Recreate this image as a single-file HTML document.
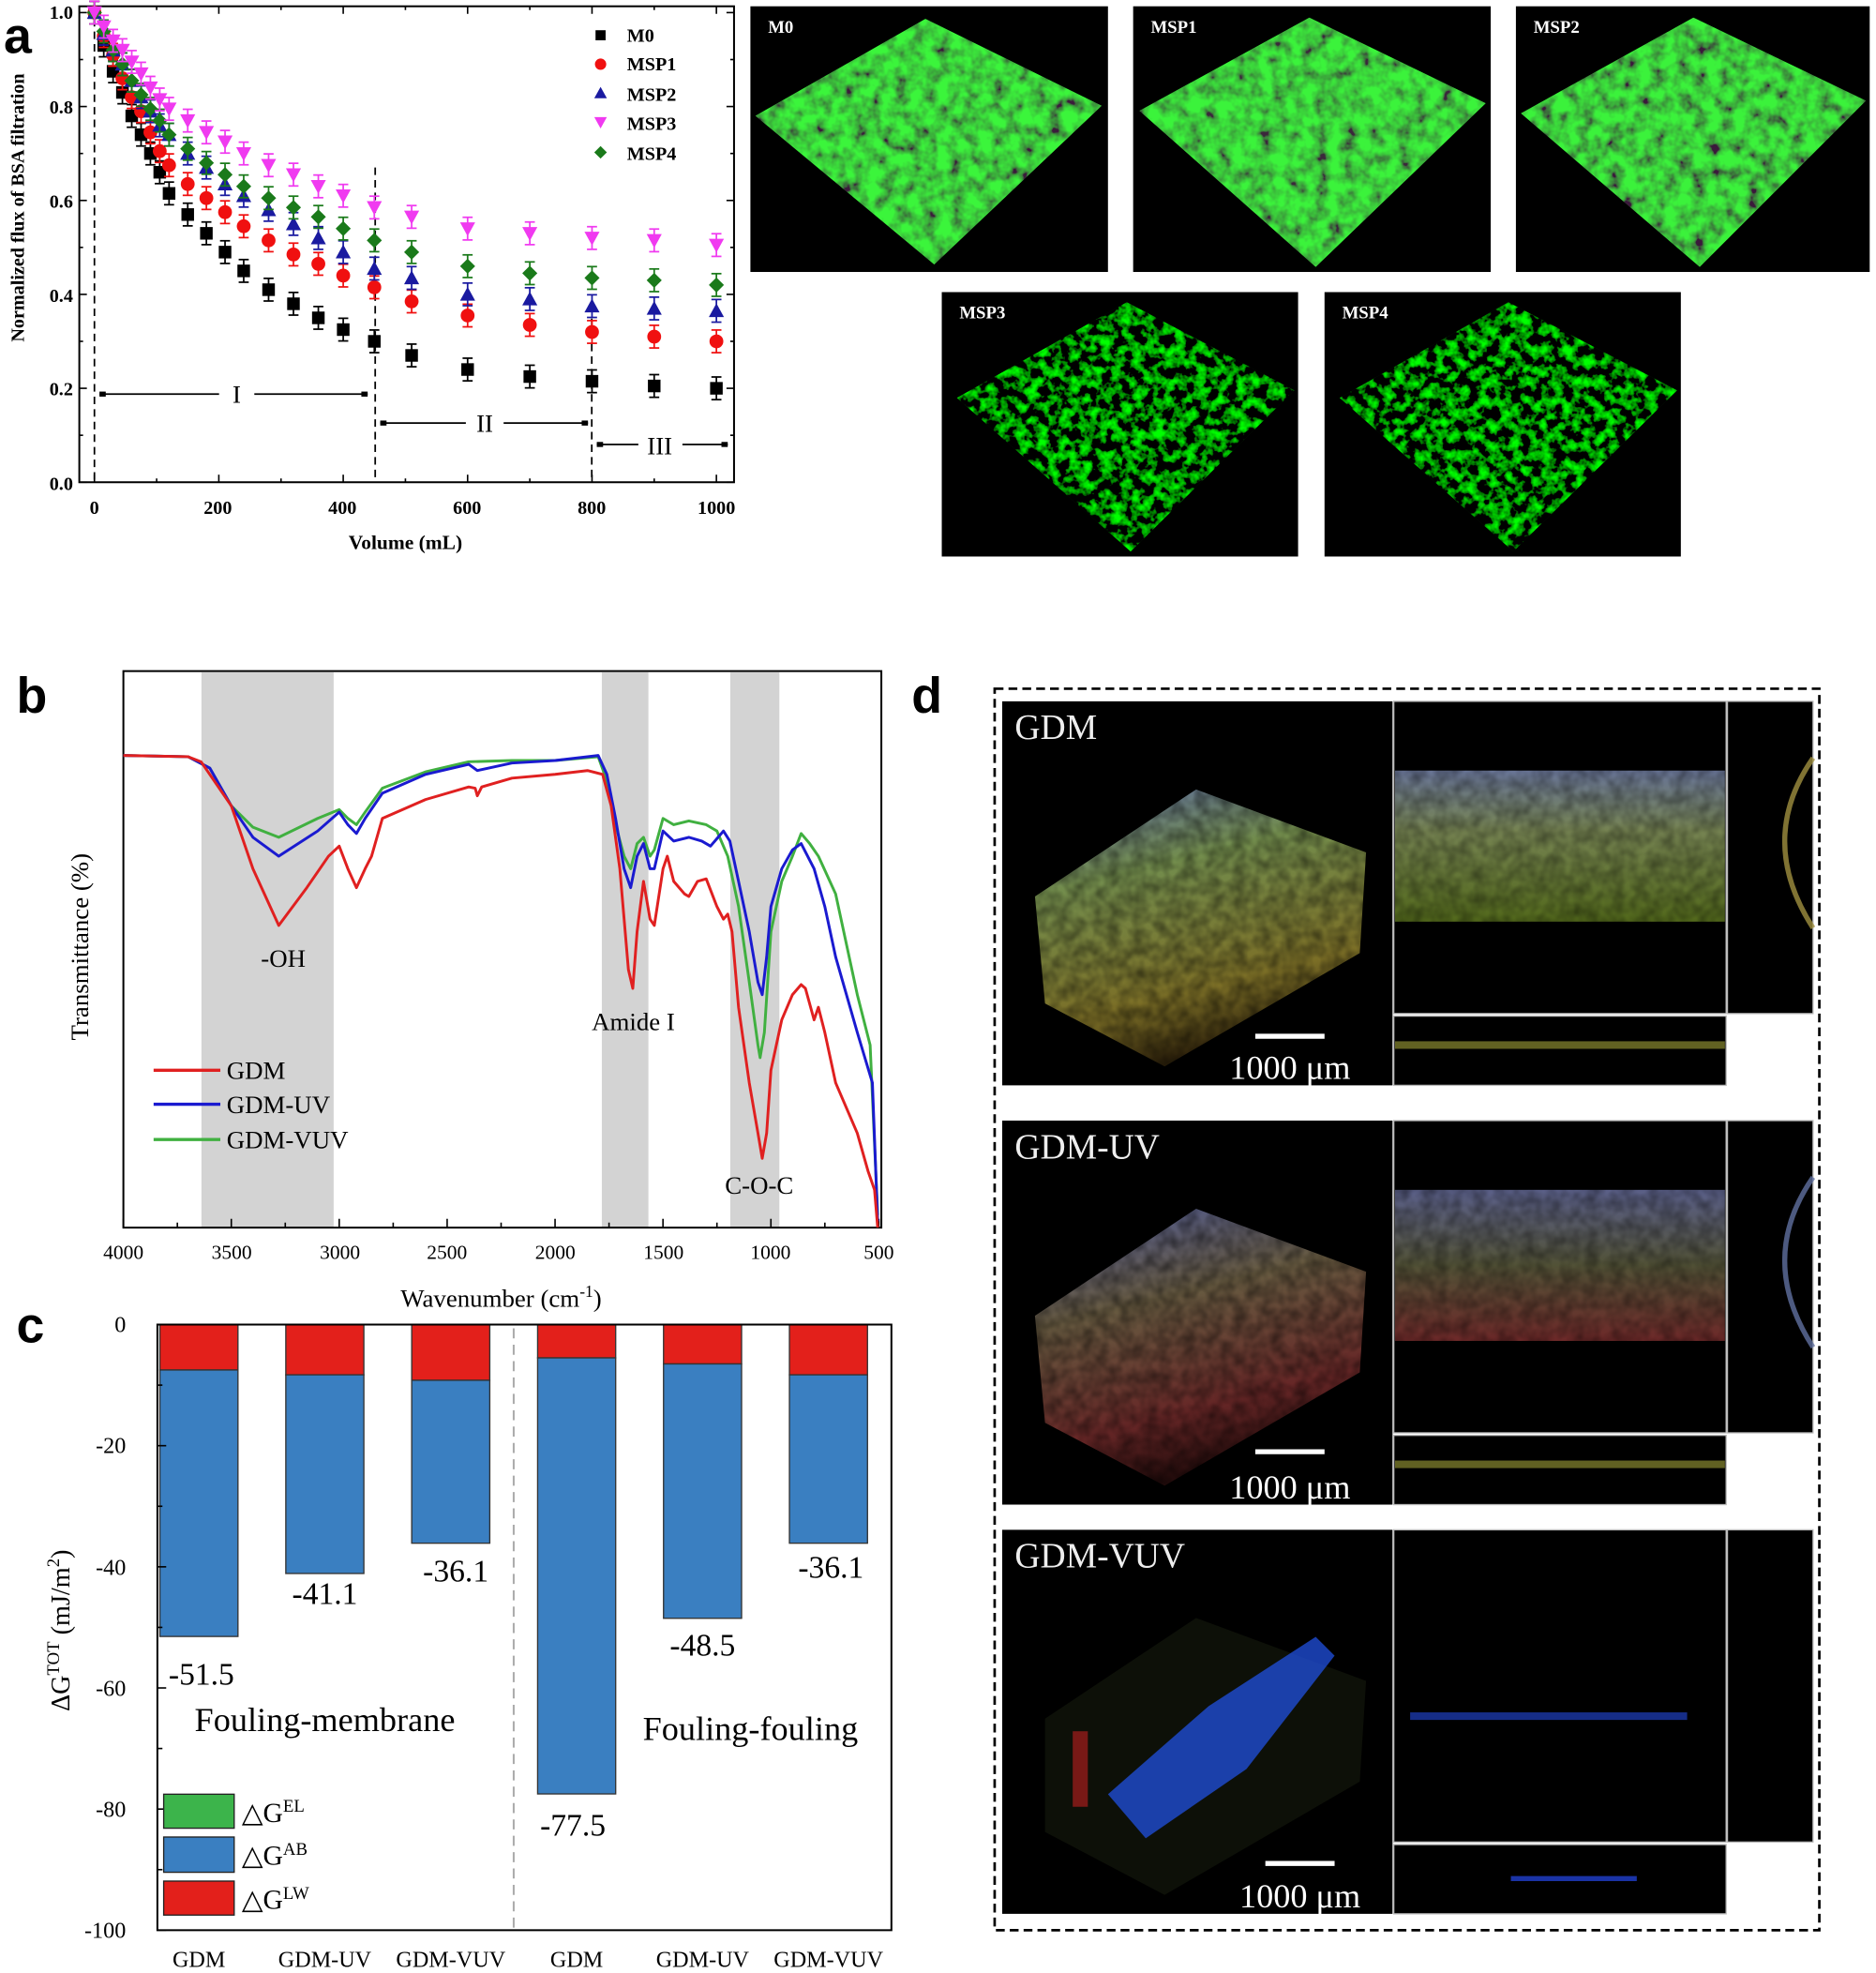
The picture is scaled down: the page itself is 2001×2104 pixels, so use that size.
<!DOCTYPE html>
<html><head><meta charset="utf-8"><style>html,body{margin:0;padding:0;background:#fff}svg{display:block}</style></head>
<body>
<svg id="s" xmlns="http://www.w3.org/2000/svg" width="2001" height="2104" viewBox="0 0 1490 1567" preserveAspectRatio="none" font-family="'Liberation Serif',serif">
<defs>
<filter id="gn" x="0" y="0" width="100%" height="100%"><feTurbulence type="fractalNoise" baseFrequency="0.09" numOctaves="3" seed="3"/><feColorMatrix type="matrix" values="0 0 0 0 0.05  2.2 0 0 0 -0.45  0 0 0 0 0.05  0 0 0 0 1"/></filter>
<filter id="gn2" x="0" y="0" width="100%" height="100%"><feTurbulence type="fractalNoise" baseFrequency="0.12" numOctaves="3" seed="7"/><feColorMatrix type="matrix" values="0 0 0 0 0  3 0 0 0 -1.3  0 0 0 0 0  0 0 0 0 1"/></filter>
<filter id="cn" x="0" y="0" width="100%" height="100%"><feTurbulence type="fractalNoise" baseFrequency="0.1" numOctaves="2" seed="5"/><feColorMatrix type="matrix" values="0 0 0 0 0 0 0 0 0 0 0 0 0 0 0 0 0 0 1.2 -0.3"/></filter>
<linearGradient id="d1" x1="0" y1="0" x2="0.3" y2="1"><stop offset="0" stop-color="#7080d0"/><stop offset="0.35" stop-color="#8fb060"/><stop offset="0.8" stop-color="#9a8a30"/><stop offset="1" stop-color="#403010"/></linearGradient>
<linearGradient id="d2" x1="0" y1="0" x2="0.3" y2="1"><stop offset="0" stop-color="#6070c0"/><stop offset="0.4" stop-color="#807050"/><stop offset="0.8" stop-color="#803030"/><stop offset="1" stop-color="#301010"/></linearGradient>
<linearGradient id="o1" x1="0" y1="0" x2="0" y2="1"><stop offset="0" stop-color="#7a88b0"/><stop offset="0.4" stop-color="#8a9a60"/><stop offset="1" stop-color="#607a20"/></linearGradient>
<linearGradient id="o2" x1="0" y1="0" x2="0" y2="1"><stop offset="0" stop-color="#6a70a0"/><stop offset="0.5" stop-color="#606040"/><stop offset="1" stop-color="#803030"/></linearGradient>
<clipPath id="c0"><polygon points="600,92 735,15 875,84 742,210"/></clipPath>
<clipPath id="c1"><polygon points="905,88 1040,14 1180,82 1045,212"/></clipPath>
<clipPath id="c2"><polygon points="1208,90 1345,14 1482,80 1350,212"/></clipPath>
<clipPath id="c3"><polygon points="760,316 895,240 1028,310 898,438"/></clipPath>
<clipPath id="c4"><polygon points="1064,316 1198,240 1332,310 1202,438"/></clipPath>
</defs>

<!-- ===== Panel a ===== -->
<text x="3" y="42" font-family="'Liberation Sans',sans-serif" font-weight="bold" font-size="40">a</text>
<rect x="63" y="5" width="520" height="378" fill="none" stroke="#000" stroke-width="1.5"/>
<g id="aticks" stroke="#000" stroke-width="1.2"></g>
<g stroke="#000" stroke-width="1.3" stroke-dasharray="6,4" fill="none">
<line x1="75" y1="5" x2="75" y2="383"/><line x1="298" y1="133" x2="298" y2="383"/><line x1="470" y1="253" x2="470" y2="383"/>
</g>
<g font-size="15" font-weight="bold" text-anchor="middle">
<text x="75" y="408">0</text><text x="173" y="408">200</text><text x="272" y="408">400</text><text x="371" y="408">600</text><text x="470" y="408">800</text><text x="569" y="408">1000</text>
</g>
<g font-size="15" font-weight="bold" text-anchor="end">
<text x="58" y="15">1.0</text><text x="58" y="90">0.8</text><text x="58" y="165">0.6</text><text x="58" y="240">0.4</text><text x="58" y="314">0.2</text><text x="58" y="389">0.0</text>
</g>
<text x="322" y="436" font-size="16" font-weight="bold" text-anchor="middle">Volume (mL)</text>
<text transform="translate(19,165) rotate(-90)" font-size="15" font-weight="bold" text-anchor="middle">Normalized flux of BSA filtration</text>
<g stroke="#000" stroke-width="1.3">
<line x1="79" y1="313" x2="174" y2="313"/><line x1="202" y1="313" x2="292" y2="313"/>
<line x1="302" y1="336" x2="370" y2="336"/><line x1="400" y1="336" x2="467" y2="336"/>
<line x1="474" y1="353" x2="507" y2="353"/><line x1="542" y1="353" x2="578" y2="353"/>
</g>
<g fill="#000"><rect x="79" y="311" width="5" height="4"/><rect x="287" y="311" width="5" height="4"/><rect x="302" y="334" width="5" height="4"/><rect x="462" y="334" width="5" height="4"/><rect x="474" y="351" width="5" height="4"/><rect x="573" y="351" width="5" height="4"/></g>
<g font-size="20" text-anchor="middle"><text x="188" y="320">I</text><text x="385" y="343">II</text><text x="524" y="361">III</text></g>
<g id="adata"></g>
<g font-size="15" font-weight="bold">
<rect x="473" y="24" width="8" height="8"/><text x="498" y="33">M0</text>
<circle cx="477" cy="51" r="4.5" fill="#f01010"/><text x="498" y="56">MSP1</text>
<polygon points="477,69 482,78 472,78" fill="#1a1aa0"/><text x="498" y="80">MSP2</text>
<polygon points="472,93 482,93 477,102" fill="#f03af0"/><text x="498" y="103">MSP3</text>
<polygon points="477,116 482,121 477,126 472,121" fill="#1a7a1a"/><text x="498" y="127">MSP4</text>
</g>

<!-- CLSM images -->
<g>
<rect x="596" y="5" width="284" height="211" fill="#000"/>
<rect x="900" y="5" width="284" height="211" fill="#000"/>
<rect x="1204" y="5" width="281" height="211" fill="#000"/>
<rect x="748" y="232" width="283" height="210" fill="#000"/>
<rect x="1052" y="232" width="283" height="210" fill="#000"/>
<g clip-path="url(#c0)"><rect x="596" y="5" width="284" height="211" fill="#2db82d"/><rect x="596" y="5" width="284" height="211" filter="url(#gn)" opacity="0.85"/></g>
<g clip-path="url(#c1)"><rect x="900" y="5" width="284" height="211" fill="#30c030"/><rect x="900" y="5" width="284" height="211" filter="url(#gn)" opacity="0.8"/></g>
<g clip-path="url(#c2)"><rect x="1204" y="5" width="281" height="211" fill="#28a828"/><rect x="1204" y="5" width="281" height="211" filter="url(#gn)" opacity="0.85"/></g>
<g clip-path="url(#c3)"><rect x="748" y="232" width="283" height="210" fill="#0a300a"/><rect x="748" y="232" width="283" height="210" filter="url(#gn2)"/></g>
<g clip-path="url(#c4)"><rect x="1052" y="232" width="283" height="210" fill="#0a350a"/><rect x="1052" y="232" width="283" height="210" filter="url(#gn2)"/></g>
<g fill="#fff" font-size="14" font-weight="bold">
<text x="610" y="26">M0</text><text x="914" y="26">MSP1</text><text x="1218" y="26">MSP2</text><text x="762" y="253">MSP3</text><text x="1066" y="253">MSP4</text>
</g>
</g>

<!-- ===== Panel b ===== -->
<text x="13" y="566" font-family="'Liberation Sans',sans-serif" font-weight="bold" font-size="40">b</text>
<g fill="#d3d3d3"><rect x="160" y="534" width="105" height="441"/><rect x="478" y="534" width="37" height="441"/><rect x="580" y="534" width="39" height="441"/></g>
<rect x="98" y="533" width="602" height="442" fill="none" stroke="#000" stroke-width="1.5"/>
<g id="bticks" stroke="#000" stroke-width="1.2"></g>
<g id="bcurves" fill="none" stroke-width="2.2" stroke-linejoin="round"></g>
<g font-size="16" text-anchor="middle">
<text x="98" y="1000">4000</text><text x="184" y="1000">3500</text><text x="270" y="1000">3000</text><text x="355" y="1000">2500</text><text x="441" y="1000">2000</text><text x="527" y="1000">1500</text><text x="612" y="1000">1000</text><text x="698" y="1000">500</text>
</g>
<text x="398" y="1038" font-size="20" text-anchor="middle">Wavenumber (cm<tspan dy="-8" font-size="13">-1</tspan><tspan dy="8">)</tspan></text>
<text transform="translate(70,752) rotate(-90)" font-size="20" text-anchor="middle">Transmittance (%)</text>
<g font-size="20" text-anchor="middle"><text x="225" y="768">-OH</text><text x="503" y="818">Amide I</text><text x="603" y="948">C-O-C</text></g>
<g stroke-width="2.5"><line x1="122" y1="850" x2="175" y2="850" stroke="#e02020"/><line x1="122" y1="877" x2="175" y2="877" stroke="#1a1ad0"/><line x1="122" y1="905" x2="175" y2="905" stroke="#40b040"/></g>
<g font-size="20"><text x="180" y="857">GDM</text><text x="180" y="884">GDM-UV</text><text x="180" y="912">GDM-VUV</text></g>

<!-- ===== Panel c ===== -->
<text x="13" y="1066" font-family="'Liberation Sans',sans-serif" font-weight="bold" font-size="40">c</text>
<line x1="408" y1="1055" x2="408" y2="1533" stroke="#aaa" stroke-width="1.5" stroke-dasharray="8,5"/>
<g id="cbars"></g>
<rect x="125" y="1052" width="583" height="481" fill="none" stroke="#000" stroke-width="1.5"/>
<g id="cticks" stroke="#000" stroke-width="1.2"></g>
<g font-size="18" text-anchor="end">
<text x="100" y="1058">0</text><text x="100" y="1154">-20</text><text x="100" y="1251">-40</text><text x="100" y="1347">-60</text><text x="100" y="1443">-80</text><text x="100" y="1539">-100</text>
</g>
<g font-size="18" text-anchor="middle">
<text x="158" y="1562">GDM</text><text x="258" y="1562">GDM-UV</text><text x="358" y="1562">GDM-VUV</text><text x="458" y="1562">GDM</text><text x="558" y="1562">GDM-UV</text><text x="658" y="1562">GDM-VUV</text>
</g>
<g font-size="25" text-anchor="middle">
<text x="160" y="1338">-51.5</text><text x="258" y="1274">-41.1</text><text x="362" y="1256">-36.1</text><text x="455" y="1458">-77.5</text><text x="558" y="1315">-48.5</text><text x="660" y="1253">-36.1</text>
<text x="258" y="1375" font-size="27">Fouling-membrane</text><text x="596" y="1382" font-size="27">Fouling-fouling</text>
</g>
<text transform="translate(55,1295) rotate(-90)" font-size="21" text-anchor="middle">ΔG<tspan dy="-8" font-size="14">TOT</tspan><tspan dy="8"> (mJ/m</tspan><tspan dy="-8" font-size="14">2</tspan><tspan dy="8">)</tspan></text>
<g stroke="#222" stroke-width="1">
<rect x="130" y="1425" width="56" height="27" fill="#3cb44b"/><rect x="130" y="1459" width="56" height="28" fill="#3a7fc1"/><rect x="130" y="1494" width="56" height="27" fill="#e3201b"/>
</g>
<g font-size="22"><text x="192" y="1447">△G<tspan dy="-8" font-size="14">EL</tspan></text><text x="192" y="1481">△G<tspan dy="-8" font-size="14">AB</tspan></text><text x="192" y="1516">△G<tspan dy="-8" font-size="14">LW</tspan></text></g>

<!-- ===== Panel d ===== -->
<text x="724" y="566" font-family="'Liberation Sans',sans-serif" font-weight="bold" font-size="40">d</text>
<rect x="790" y="547" width="655" height="986" fill="none" stroke="#000" stroke-width="2" stroke-dasharray="7,4"/>
<g id="drows"></g>
</svg>
<script>
const NS="http://www.w3.org/2000/svg";
function el(t,a,p){const e=document.createElementNS(NS,t);for(const k in a)e.setAttribute(k,a[k]);(p||document.getElementById('s')).appendChild(e);return e;}
// ticks
const at=document.getElementById('aticks');
for(let v=0;v<=1000;v+=100){const x=75+v*0.494,L=v%200==0?6:3;el('line',{x1:x,y1:383,x2:x,y2:383-L},at);el('line',{x1:x,y1:5,x2:x,y2:5+L},at);}
for(let f=0;f<=1.0001;f+=0.1){const y=383-f*373,L=Math.round(f*10)%2==0?6:3;el('line',{x1:63,y1:y,x2:63+L,y2:y},at);el('line',{x1:583,y1:y,x2:583-L,y2:y},at);}
const bt=document.getElementById('bticks');
for(let w=500;w<=4000;w+=250){const x=98+(4000-w)*600/3500,L=w%500==0?7:4;el('line',{x1:x,y1:975,x2:x,y2:975-L},bt);}
const ct=document.getElementById('cticks');
for(let v=0;v<=100;v+=10){const y=1052+v*4.81,L=v%20==0?7:4;el('line',{x1:125,y1:y,x2:125+L,y2:y},ct);}
// Panel a
const V=[0,15,30,45,60,75,90,105,120,150,180,210,240,280,320,360,400,450,510,600,700,800,900,1000];
const D={
M0:[1,.93,.875,.83,.78,.74,.70,.66,.615,.57,.53,.49,.45,.41,.38,.35,.325,.30,.27,.24,.225,.215,.205,.20],
M1:[1,.95,.91,.86,.82,.79,.745,.705,.675,.635,.605,.575,.545,.515,.485,.465,.44,.415,.385,.355,.335,.32,.31,.30],
M2:[1,.955,.92,.89,.855,.82,.79,.76,.74,.70,.67,.635,.61,.58,.55,.52,.49,.455,.435,.40,.39,.375,.37,.365],
M3:[1,.97,.94,.92,.895,.87,.84,.815,.795,.77,.745,.725,.70,.675,.655,.63,.61,.585,.565,.54,.53,.52,.515,.505],
M4:[1,.96,.92,.89,.855,.825,.795,.77,.74,.71,.68,.655,.63,.605,.585,.565,.54,.515,.49,.46,.445,.435,.43,.42]};
const ag=document.getElementById('adata');
const xs=v=>75+v*0.494, ys=f=>383-f*373;
const cols={M0:'#000',M1:'#f01010',M2:'#1a1aa0',M3:'#f03af0',M4:'#1a7a1a'};
['M0','M1','M2','M4','M3'].forEach(k=>{D[k].forEach((f,i)=>{const x=xs(V[i]),y=ys(f),c=cols[k],e=9;
 el('line',{x1:x,y1:y-e,x2:x,y2:y+e,stroke:c,'stroke-width':1.3},ag);
 el('line',{x1:x-4,y1:y-e,x2:x+4,y2:y-e,stroke:c,'stroke-width':1.3},ag);
 el('line',{x1:x-4,y1:y+e,x2:x+4,y2:y+e,stroke:c,'stroke-width':1.3},ag);
 if(k=='M0')el('rect',{x:x-5,y:y-5,width:10,height:10,fill:c},ag);
 else if(k=='M1')el('circle',{cx:x,cy:y,r:5.5,fill:c},ag);
 else if(k=='M2')el('polygon',{points:`${x},${y-6} ${x+6},${y+5} ${x-6},${y+5}`,fill:c},ag);
 else if(k=='M3')el('polygon',{points:`${x-6},${y-5} ${x+6},${y-5} ${x},${y+6}`,fill:c},ag);
 else el('polygon',{points:`${x},${y-6} ${x+6},${y} ${x},${y+6} ${x-6},${y}`,fill:c},ag);
});});
// Panel b
const wx=w=>98+(4000-w)*600/3500;
const R=[4000,600,3700,601,3640,605,3500,640,3400,690,3280,735,3150,705,3050,680,3000,672,2960,690,2920,705,2880,690,2850,680,2800,650,2600,635,2400,625,2370,626,2360,632,2340,625,2200,618,2000,615,1850,612,1780,615,1740,640,1700,690,1660,770,1640,785,1620,740,1590,700,1560,730,1540,735,1500,690,1480,680,1450,700,1400,710,1380,712,1340,700,1300,698,1250,720,1220,730,1200,726,1180,740,1150,800,1100,860,1060,900,1040,920,1020,900,1000,850,950,810,900,790,860,782,840,785,800,810,780,800,750,820,700,860,600,900,550,930,520,945,505,975];
const B=[4000,600,3700,601,3600,610,3500,640,3400,665,3280,680,3100,660,3000,645,2960,655,2920,662,2880,650,2800,630,2600,615,2400,607,2360,612,2200,606,2000,604,1800,600,1760,615,1720,650,1680,690,1650,705,1620,680,1590,670,1560,690,1540,690,1500,660,1450,668,1380,665,1320,668,1280,672,1220,660,1190,668,1150,700,1100,740,1060,780,1040,790,1020,760,1000,720,950,690,900,675,860,670,800,690,750,720,700,760,600,820,530,860,505,970];
const G=[4000,600,3700,601,3600,610,3500,640,3400,657,3280,665,3100,650,3000,643,2960,650,2920,655,2880,645,2800,626,2600,613,2400,605,2200,604,2000,604,1800,601,1760,620,1720,655,1680,680,1650,690,1620,670,1590,665,1560,680,1540,675,1500,650,1450,655,1380,652,1300,655,1250,660,1200,680,1150,720,1100,780,1060,830,1050,840,1030,820,1000,740,950,700,900,680,860,662,820,670,780,680,700,710,600,790,540,830,505,965];
const bc=document.getElementById('bcurves');
[[G,'#40b040'],[B,'#1a1ad0'],[R,'#e02020']].forEach(([a,c])=>{let d='';for(let i=0;i<a.length;i+=2)d+=(i?'L':'M')+wx(a[i]).toFixed(1)+','+a[i+1];el('path',{d,stroke:c},bc);});
// Panel c
const cb=document.getElementById('cbars');
[[158,7.5,51.5],[258,8.3,41.1],[358,9.2,36.1],[458,5.5,77.5],[558,6.5,48.5],[658,8.3,36.1]].forEach(([c,lw,t])=>{
 el('rect',{x:c-31,y:1052,width:62,height:lw*4.81,fill:'#e3201b',stroke:'#333','stroke-width':1},cb);
 el('rect',{x:c-31,y:1052+lw*4.81,width:62,height:(t-lw)*4.81,fill:'#3a7fc1',stroke:'#333','stroke-width':1},cb);});
// Panel d
const dr=document.getElementById('drows');
const rows=[{y:557,lab:'GDM',g:'d1',o:'o1',bar:[997,1052,823,857]},{y:890,lab:'GDM-UV',g:'d2',o:'o2',bar:[997,1052,1153,1190]},{y:1215,lab:'GDM-VUV',g:null,o:null,bar:[1005,1060,1480,1515]}];
rows.forEach((r,i)=>{const y=r.y;
 el('rect',{x:796,y:y,width:310,height:305,fill:'#000'},dr);
 el('rect',{x:1107,y:y,width:264,height:248,fill:'#000',stroke:'#bbb','stroke-width':1},dr);
 el('rect',{x:1372,y:y,width:68,height:248,fill:'#000',stroke:'#bbb','stroke-width':1},dr);
 el('rect',{x:1107,y:y+250,width:264,height:55,fill:'#000',stroke:'#bbb','stroke-width':1},dr);
 if(r.g){
  el('polygon',{points:`${822},${y+155} ${950},${y+70} ${1085},${y+120} ${1080},${y+200} ${925},${y+290} ${830},${y+240}`,fill:'url(#'+r.g+')',opacity:0.8},dr);
  el('polygon',{points:`${822},${y+155} ${950},${y+70} ${1085},${y+120} ${1080},${y+200} ${925},${y+290} ${830},${y+240}`,filter:'url(#cn)',opacity:0.6},dr);
  el('rect',{x:1108,y:y+55,width:262,height:120,fill:'url(#'+r.o+')',opacity:0.85},dr);
  el('rect',{x:1108,y:y+55,width:262,height:120,filter:'url(#cn)',opacity:0.5},dr);
  el('rect',{x:1108,y:y+270,width:262,height:6,fill:'#8a8a30',opacity:0.7},dr);
  el('path',{d:`M1440,${y+45} Q1395,${y+110} 1440,${y+180}`,fill:'none',stroke:i?'#6070a0':'#a09040','stroke-width':4,opacity:0.8},dr);
 } else {
  el('polygon',{points:`${830},${y+150} ${950},${y+70} ${1085},${y+120} ${1080},${y+200} ${925},${y+290} ${830},${y+240}`,fill:'#1a2010',opacity:0.5},dr);
  el('polygon',{points:`${880},${y+210} ${960},${y+140} ${1045},${y+85} ${1060},${y+100} ${990},${y+190} ${910},${y+245}`,fill:'#2050e0',opacity:0.75},dr);
  el('rect',{x:852,y:y+160,width:12,height:60,fill:'#c02020',opacity:0.6},dr);
  el('rect',{x:1120,y:y+145,width:220,height:6,fill:'#2040c0',opacity:0.7},dr);
  el('rect',{x:1200,y:y+275,width:100,height:4,fill:'#2040d0',opacity:0.8},dr);
 }
 const t=el('text',{x:806,y:y+30,fill:'#eee','font-size':28},dr);t.textContent=r.lab;
 el('line',{x1:r.bar[0],y1:r.bar[2],x2:r.bar[1],y2:r.bar[2],stroke:'#fff','stroke-width':4},dr);
 const s=el('text',{x:(r.bar[0]+r.bar[1])/2,y:r.bar[3],fill:'#fff','font-size':27,'text-anchor':'middle'},dr);s.textContent='1000 μm';
});
</script>
</body></html>
